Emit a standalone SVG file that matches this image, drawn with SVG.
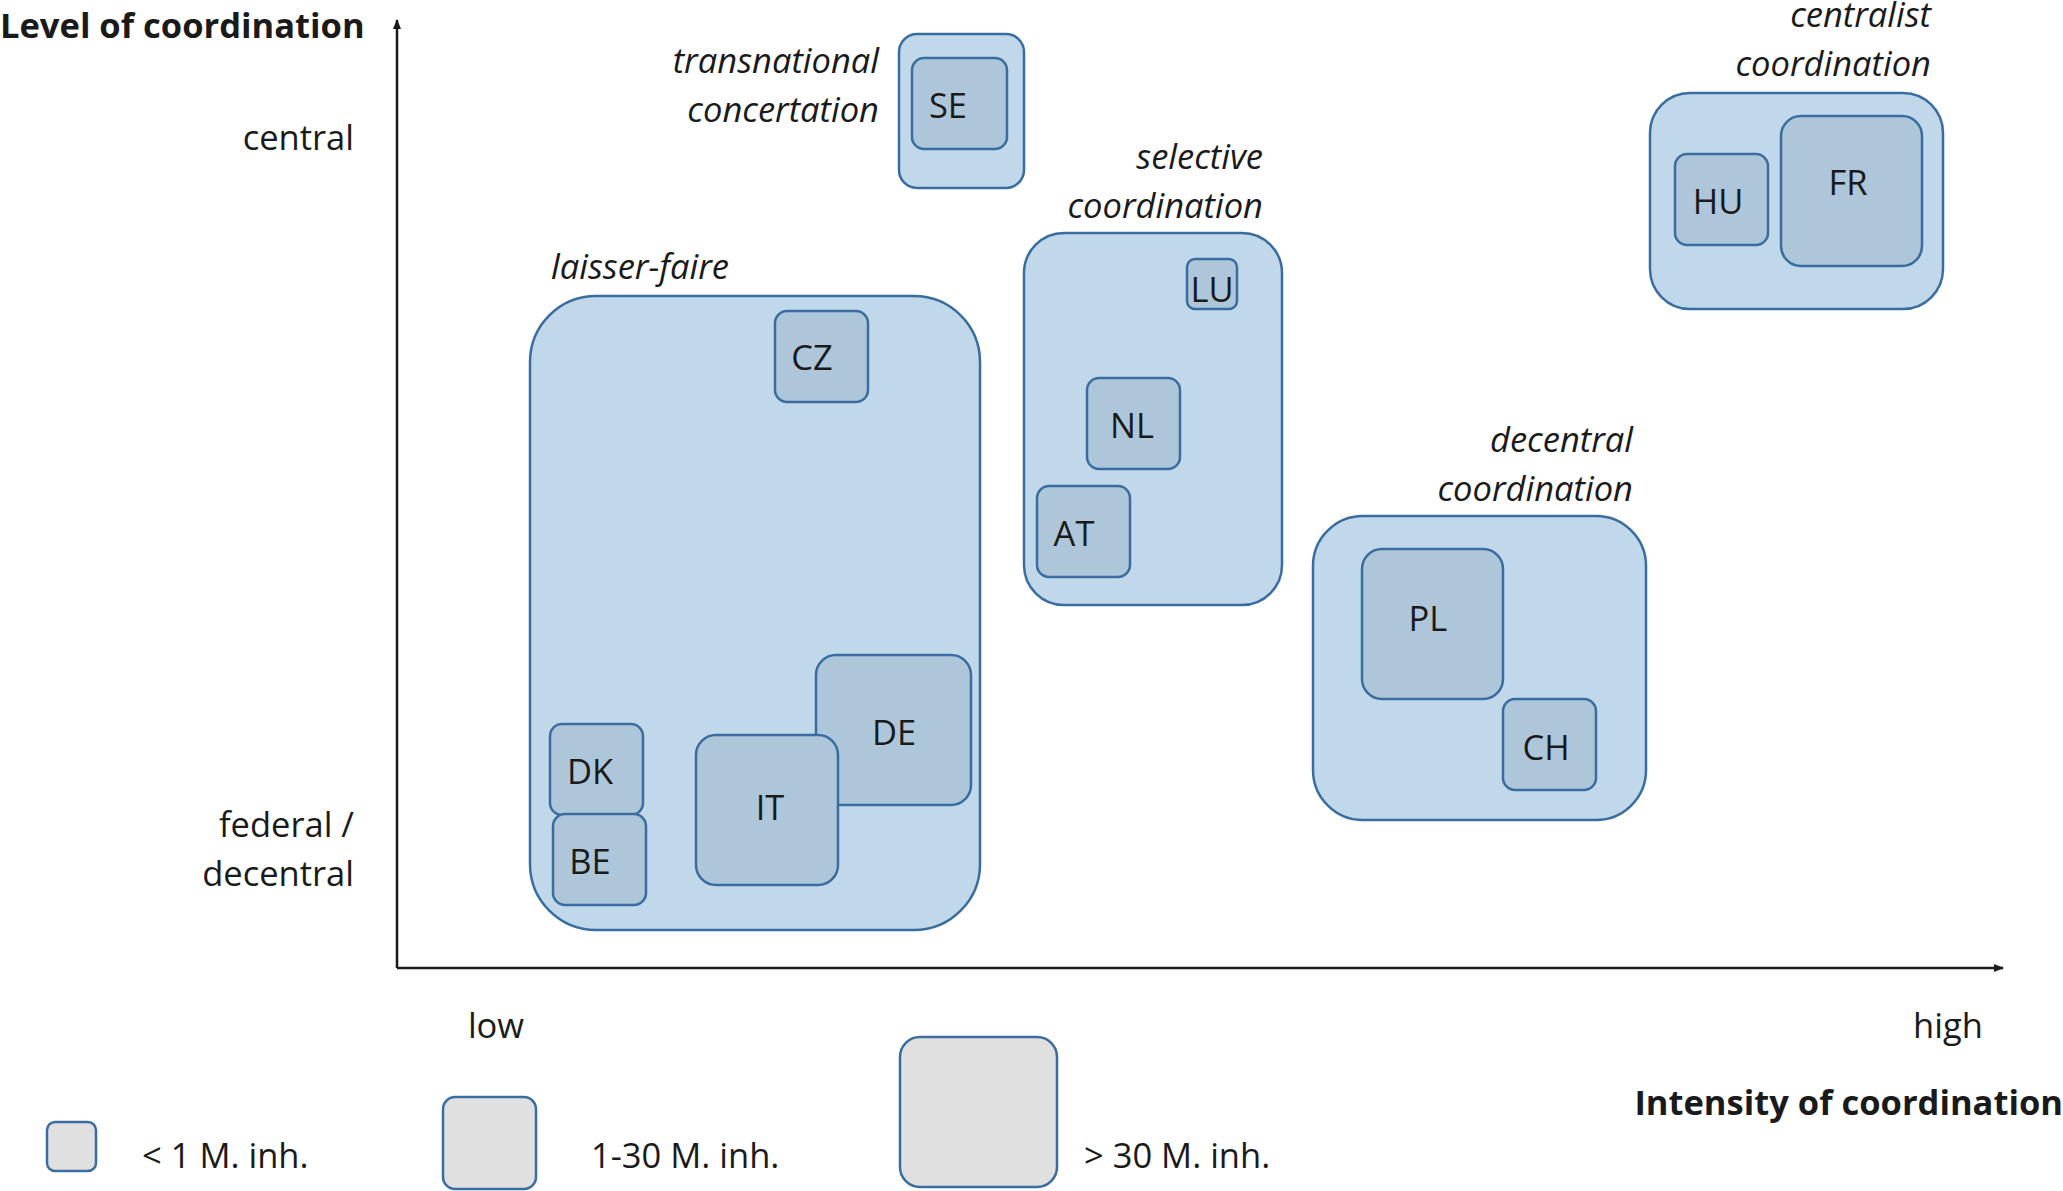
<svg xmlns="http://www.w3.org/2000/svg" width="2063" height="1191" viewBox="0 0 2063 1191">
<defs>
<style>
text{font-family:"Open Sans","Noto Sans",sans-serif;fill:#1a1a1a;font-size:34.5px}
.g{fill:#c1d8eb;stroke:#3a6d9f;stroke-width:2.5}
.c{fill:#aec6d9;stroke:#3a6d9f;stroke-width:2.5}
.l{fill:#e0e0e0;stroke:#3a6d9f;stroke-width:2.5}
.n{text-anchor:middle;dominant-baseline:central}
.i{font-style:italic}
.b{font-weight:bold}
.e{text-anchor:end}
</style>
<marker id="a" viewBox="0 0 10 10" refX="9" refY="5" markerWidth="10" markerHeight="10" markerUnits="userSpaceOnUse" orient="auto"><path d="M0,1 L10,5 L0,9 z" fill="#1a1a1a"/></marker>
</defs>
<g id="connectors" stroke="#1a1a1a" stroke-width="2.5" fill="none">
<line x1="397" y1="968" x2="397" y2="20" marker-end="url(#a)"/>
<line x1="397" y1="968" x2="2003" y2="968" marker-end="url(#a)"/>
</g>
<g id="groups">
<rect class="g" x="530" y="296" width="450" height="634" rx="66"/>
<rect class="g" x="899" y="34" width="125" height="154" rx="18"/>
<rect class="g" x="1024" y="233" width="258" height="372" rx="40"/>
<rect class="g" x="1313" y="516" width="333" height="304" rx="50"/>
<rect class="g" x="1650" y="93" width="293" height="216" rx="40"/>
</g>
<g id="SE"><rect class="c" x="912" y="58" width="95" height="91" rx="12"/><text class="n" x="948" y="104">SE</text></g>
<g id="LU"><rect class="c" x="1187" y="259" width="50" height="50" rx="8"/><text class="n" x="1212" y="288">LU</text></g>
<g id="NL"><rect class="c" x="1087" y="378" width="93" height="91" rx="12"/><text class="n" x="1132" y="424">NL</text></g>
<g id="AT"><rect class="c" x="1037" y="486" width="93" height="91" rx="12"/><text class="n" x="1074" y="532">AT</text></g>
<g id="PL"><rect class="c" x="1362" y="549" width="141" height="150" rx="20"/><text class="n" x="1428" y="617">PL</text></g>
<g id="CH"><rect class="c" x="1503" y="699" width="93" height="91" rx="12"/><text class="n" x="1546" y="746">CH</text></g>
<g id="HU"><rect class="c" x="1675" y="154" width="93" height="91" rx="12"/><text class="n" x="1718" y="200">HU</text></g>
<g id="FR"><rect class="c" x="1781" y="116" width="141" height="150" rx="20"/><text class="n" x="1848" y="181">FR</text></g>
<g id="CZ"><rect class="c" x="775" y="311" width="93" height="91" rx="12"/><text class="n" x="812" y="356">CZ</text></g>
<g id="DE"><rect class="c" x="816" y="655" width="155" height="150" rx="20"/><text class="n" x="894" y="731">DE</text></g>
<g id="IT"><rect class="c" x="696" y="735" width="142" height="150" rx="20"/><text class="n" x="770" y="806">IT</text></g>
<g id="DK"><rect class="c" x="550" y="724" width="93" height="91" rx="12"/><text class="n" x="590" y="770">DK</text></g>
<g id="BE"><rect class="c" x="553" y="814" width="93" height="91" rx="12"/><text class="n" x="590" y="860">BE</text></g>
<g id="legend">
<rect class="l" x="47" y="1122" width="49" height="49" rx="8"/>
<rect class="l" x="443" y="1097" width="93" height="92" rx="12"/>
<rect class="l" x="900" y="1037" width="157" height="150" rx="20"/>
<text x="142" y="1168">&lt; 1 M. inh.</text>
<text x="591" y="1168">1-30 M. inh.</text>
<text x="1084" y="1168">&gt; 30 M. inh.</text>
</g>
<g id="labels">
<text class="b" x="0" y="38">Level of coordination</text>
<text class="e" x="354" y="150">central</text>
<text class="e" x="354" y="837">federal /</text>
<text class="e" x="354" y="886">decentral</text>
<text x="496" y="1038" text-anchor="middle">low</text>
<text x="1948" y="1038" text-anchor="middle">high</text>
<text class="b e" x="2063" y="1115">Intensity of coordination</text>
<text class="i e" x="879" y="73">transnational</text>
<text class="i e" x="879" y="122">concertation</text>
<text class="i" x="640" y="279" text-anchor="middle">laisser-faire</text>
<text class="i e" x="1263" y="169">selective</text>
<text class="i e" x="1263" y="218">coordination</text>
<text class="i e" x="1633" y="452">decentral</text>
<text class="i e" x="1633" y="501">coordination</text>
<text class="i e" x="1931" y="27">centralist</text>
<text class="i e" x="1931" y="76">coordination</text>
</g>
</svg>
